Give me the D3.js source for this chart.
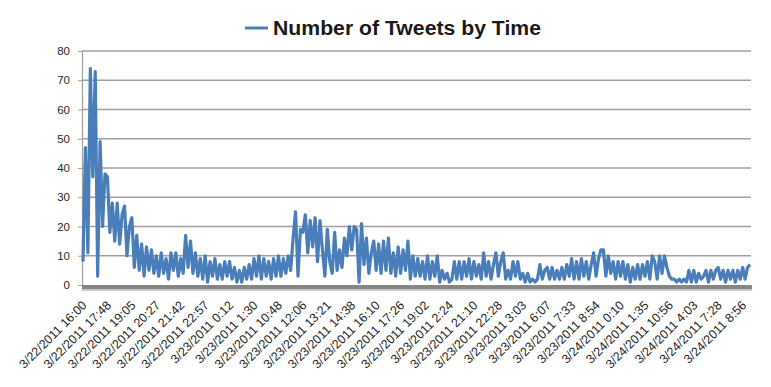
<!DOCTYPE html>
<head>
  <meta charset="utf-8">
  <script src="https://d3js.org/d3.v7.min.js"></script>
  <style>
    body { margin:0; background:#fff; }
    text { font-family: "Liberation Sans", Arial, sans-serif; fill:#262626; }
  </style>
</head>
<body>
  <script>
    // x-axis labels (one every 10 points)
    var tickLabels = [
      "3/22/2011 16:00", "3/22/2011 17:48", "3/22/2011 19:05", "3/22/2011 20:27",
      "3/22/2011 21:42", "3/22/2011 22:57", "3/23/2011 0:12", "3/23/2011 1:30",
      "3/23/2011 10:48", "3/23/2011 12:06", "3/23/2011 13:21", "3/23/2011 14:38",
      "3/23/2011 16:10", "3/23/2011 17:26", "3/23/2011 19:02", "3/23/2011 2:24",
      "3/23/2011 21:10", "3/23/2011 22:28", "3/23/2011 3:03", "3/23/2011 6:07",
      "3/23/2011 7:33", "3/23/2011 8:54", "3/24/2011 0:10", "3/24/2011 1:35",
      "3/24/2011 10:56", "3/24/2011 4:03", "3/24/2011 7:28", "3/24/2011 8:56"
    ];
    var labelEvery = 10;

    // tweets per interval
    var tweets = [
       8, 47, 11, 74, 37, 73,  3, 49, 20, 38,
      37, 18, 28, 15, 28, 14, 24, 27, 10, 20,
      23,  6, 17,  5, 14,  3, 13,  5, 12,  4,
      10,  3, 11,  4,  9,  2, 11,  5, 11,  3,
       9,  4, 17,  6, 15,  4, 11,  3,  9,  2,
      10,  1,  8,  3,  9,  2,  7,  2,  8,  3,
       8,  2,  6,  1,  5,  1,  6,  2,  7,  2,
       9,  3, 10,  2,  9,  3,  8,  2,  9,  3,
      10,  3,  9,  4, 10,  5, 16, 25,  3, 19,
      18, 24, 11, 22, 13, 23,  8, 22, 12,  3,
      19,  8,  4, 18,  5, 12,  6, 16, 10, 20,
      12, 20, 19,  1, 21,  7, 16,  4, 11, 15,
       5, 14,  4, 15,  5, 16,  4, 11,  3, 13,
       4, 12,  5, 15,  2, 10,  3,  9,  3,  8,
       2, 10,  2,  8,  3, 10,  1,  5,  2,  4,
       1,  2,  8,  2,  8,  2,  8,  3,  9,  2,
       8,  3,  7,  2, 11,  3,  8,  2,  7, 11,
       3,  8, 11,  2,  5,  2,  8,  3,  8,  2,
       4,  1,  4,  1,  2,  1,  2,  7,  2,  5,
       6,  2,  6,  2,  5,  2,  6,  2,  7,  3,
       9,  2,  8,  2,  9,  3,  8,  2,  7, 11,
       3,  9, 12, 12,  3, 10,  4,  8,  2,  8,
       3,  8,  2,  7,  1,  6,  2,  7,  2,  7,
       3,  8,  2, 10,  8,  2, 10,  4, 10,  6,
       3,  2,  2,  1,  2,  1,  2,  1,  5,  1,
       5,  1,  4,  2,  3,  5,  1,  5,  2,  5,
       6,  2,  5,  1,  5,  2,  5,  1,  5,  2,
       6,  2,  6,  7
    ];

    var yTicks = [0, 10, 20, 30, 40, 50, 60, 70, 80];

    var width = 771, height = 387;
    var plotLeft = 83, plotRight = 750, plotTop = 51, plotBottom = 285;

    var svg = d3.select("body").append("svg")
      .attr("width", width)
      .attr("height", height);

    var x = d3.scaleLinear().domain([0, tweets.length - 1]).range([plotLeft, plotRight]);
    var y = d3.scaleLinear().domain([0, 80]).range([plotBottom, plotTop]);

    // gridlines
    svg.append("g")
      .selectAll("line")
      .data(yTicks.slice(1))
      .enter().append("line")
      .attr("x1", plotLeft - 1).attr("x2", plotRight + 1)
      .attr("y1", function(d) { return y(d); })
      .attr("y2", function(d) { return y(d); })
      .style("stroke", "#a0a0a0")
      .style("stroke-width", 1.5);

    // y axis
    var yAxis = svg.append("g")
      .attr("transform", "translate(" + (plotLeft - 1) + ",0)")
      .call(d3.axisLeft(y).tickValues(yTicks).tickSize(4).tickPadding(8));
    yAxis.select(".domain").style("stroke", "#a0a0a0").style("stroke-width", 1.2);
    yAxis.selectAll(".tick line").style("stroke", "#a0a0a0");
    yAxis.selectAll("text")
      .style("font-size", "11.5px")
      .style("fill", "#262626")
      .style("font-family", "'Liberation Sans', Arial, sans-serif");

    // floor of the chart
    svg.append("rect")
      .attr("x", plotLeft - 1).attr("y", plotBottom)
      .attr("width", plotRight - plotLeft + 3).attr("height", 4)
      .style("fill", "#868686");
    svg.append("rect")
      .attr("x", plotLeft - 1).attr("y", plotBottom + 4)
      .attr("width", plotRight - plotLeft + 3).attr("height", 2)
      .style("fill", "#c9c9c9");

    // x axis labels
    var labelIdx = tickLabels.map(function(d, i) { return i * labelEvery; });
    var xAxis = svg.append("g")
      .attr("transform", "translate(0," + (plotBottom + 6) + ")")
      .call(d3.axisBottom(x)
        .tickValues(labelIdx)
        .tickSize(0)
        .tickFormat(function(d, i) { return tickLabels[i]; }));
    xAxis.select(".domain").remove();
    xAxis.selectAll("text")
      .style("font-size", "12.5px")
      .style("fill", "#262626")
      .style("font-family", "'Liberation Sans', Arial, sans-serif")
      .style("text-anchor", "end")
      .attr("x", 0).attr("y", 0).attr("dy", 0)
      .attr("transform", "translate(4,15) rotate(-45)");

    // the line
    var line = d3.line()
      .x(function(d, i) { return x(i); })
      .y(function(d) { return y(d); });

    svg.append("path")
      .datum(tweets)
      .attr("d", line)
      .style("fill", "none")
      .style("stroke", "#4a7ebb")
      .style("stroke-width", 3.2)
      .style("stroke-linejoin", "round");

    // title with legend key
    svg.append("line")
      .attr("x1", 245).attr("x2", 268)
      .attr("y1", 28).attr("y2", 28)
      .style("stroke", "#4a7ebb")
      .style("stroke-width", 3);
    svg.append("text")
      .attr("x", 273).attr("y", 35)
      .attr("textLength", 268)
      .attr("lengthAdjust", "spacingAndGlyphs")
      .style("font-size", "20px")
      .style("font-weight", "bold")
      .style("fill", "#1a1a1a")
      .text("Number of Tweets by Time");
  </script>
</body>
